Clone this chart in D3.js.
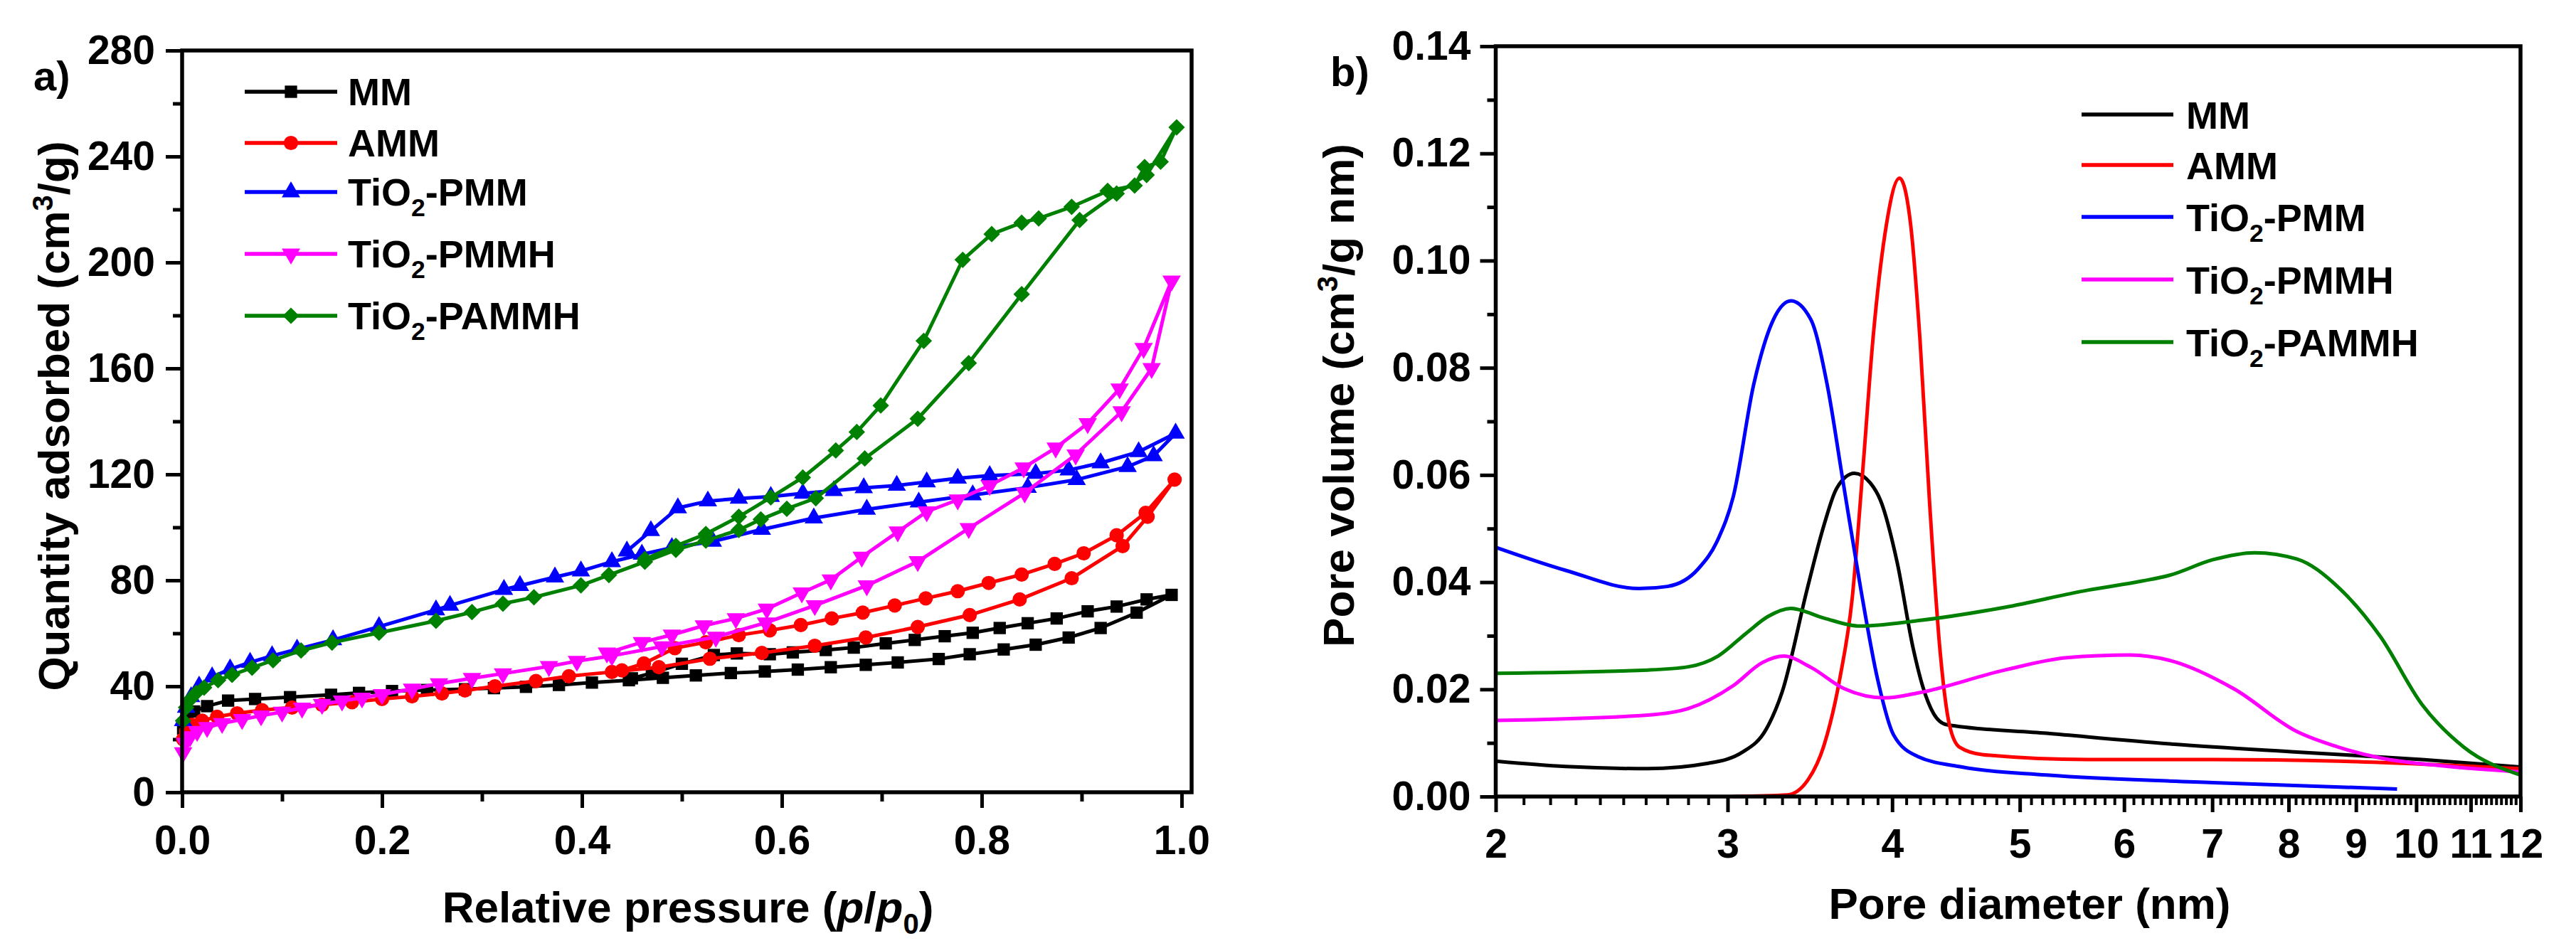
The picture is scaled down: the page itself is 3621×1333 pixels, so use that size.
<!DOCTYPE html>
<html>
<head>
<meta charset="utf-8">
<script src="https://cdn.jsdelivr.net/npm/d3@7"></script>
<style>
body { margin: 0; background: #fff; }
svg { display: block; }
text { font-family: "Liberation Sans", Arial, sans-serif; font-weight: bold; fill: #000; }
</style>
</head>
<body>
<div id="chart"></div>
<script>
// ---- data ----
const seriesNames = ["MM", "AMM", "TiO2-PMM", "TiO2-PMMH", "TiO2-PAMMH"];
const seriesColors = ["#000000", "#ff0000", "#0000ff", "#ff00ff", "#008000"];

// panel a: N2 isotherms, adsorption then desorption points [p/p0, cm3/g]
const mmIso = [[0.001,24],[0.005,28],[0.012,30.5],[0.025,32.5],[0.046,34.6],[0.073,35.2],[0.108,35.9],[0.149,36.8],[0.177,37.5],[0.21,38.2],[0.245,38.6],[0.283,38.9],[0.312,39.3],[0.344,39.8],[0.377,40.5],[0.41,41.4],[0.447,42.3],[0.481,43.2],[0.514,44.1],[0.549,45],[0.583,45.6],[0.616,46.3],[0.649,47.2],[0.684,48.1],[0.716,49],[0.757,50.3],[0.788,52.1],[0.822,53.9],[0.854,55.7],[0.887,58.4],[0.919,62],[0.955,67.8],[0.99,74.5],
  [0.965,72.8],[0.935,70.1],[0.906,68.3],[0.875,65.6],[0.846,63.8],[0.818,62],[0.791,60.2],[0.763,58.9],[0.733,57.5],[0.704,56.2],[0.672,54.6],[0.644,53.7],[0.611,52.8],[0.588,52.1],[0.555,52.4],[0.532,51.8],[0.5,48.5],[0.47,45],[0.45,43]];
const ammIso = [[0.001,20],[0.004,23],[0.01,25.5],[0.02,27],[0.035,28.5],[0.055,29.8],[0.08,31],[0.11,32],[0.14,33],[0.17,34],[0.2,35.2],[0.23,36.2],[0.26,37.3],[0.283,38.4],[0.313,40],[0.354,42],[0.387,43.8],[0.43,45.4],[0.477,47.2],[0.528,50.4],[0.58,52.6],[0.633,55.3],[0.684,58.4],[0.736,62.4],[0.788,66.9],[0.838,72.8],[0.89,80.8],[0.941,92.9],[0.966,104],[0.993,118],
  [0.964,105.5],[0.935,97],[0.902,90.2],[0.873,86.2],[0.84,82.2],[0.807,79],[0.776,75.9],[0.744,73.2],[0.713,70.5],[0.681,67.8],[0.65,65.6],[0.619,63.1],[0.588,61.1],[0.557,59.3],[0.524,56.6],[0.493,54.4],[0.462,48.6],[0.44,46]];
const pmmIso = [[0.001,27],[0.004,32],[0.009,36],[0.017,40],[0.03,43.5],[0.048,46.5],[0.068,49],[0.09,51.5],[0.115,54],[0.151,57.5],[0.197,62.5],[0.254,68.8],[0.268,70.5],[0.322,76.5],[0.338,78],[0.373,81.2],[0.399,83.5],[0.43,87],[0.46,89.8],[0.49,92.3],[0.531,94.7],[0.58,99.2],[0.632,103.5],[0.685,106.8],[0.737,109.5],[0.791,112.2],[0.846,115],[0.895,118],[0.946,122.9],[0.972,127],[0.994,135.5],
  [0.957,128.5],[0.919,124.3],[0.887,121.6],[0.854,120.3],[0.808,119.5],[0.776,118.5],[0.745,117.1],[0.715,115.8],[0.682,114.9],[0.652,113.8],[0.621,112.8],[0.589,111.6],[0.557,110.9],[0.526,109.9],[0.496,107.3],[0.469,98.7],[0.445,91]];
const pmmhIso = [[0.001,15],[0.003,18.5],[0.008,21],[0.015,23],[0.025,24.5],[0.04,26],[0.06,27.5],[0.079,28.9],[0.1,30.3],[0.12,31.8],[0.14,33.2],[0.16,34.5],[0.18,35.6],[0.2,36.9],[0.23,39],[0.257,41],[0.29,43],[0.321,44.8],[0.367,47.5],[0.395,49.5],[0.43,51.5],[0.48,55],[0.534,58.6],[0.584,64],[0.633,70.5],[0.685,78],[0.736,87.1],[0.787,99.6],[0.843,113],[0.894,127.4],[0.94,143.7],[0.97,160],[0.99,193],
  [0.962,167.6],[0.938,152.3],[0.906,139.2],[0.874,130],[0.842,122.5],[0.808,115.8],[0.776,110.4],[0.745,105.9],[0.716,98.3],[0.68,88.8],[0.649,80.2],[0.62,75.3],[0.585,69.2],[0.554,65.6],[0.522,62.9],[0.49,59.4],[0.46,56.6],[0.425,52.6]];
const pammhIso = [[0.001,27],[0.004,32],[0.008,35],[0.014,37.5],[0.022,39.5],[0.036,42.3],[0.05,44.3],[0.07,47],[0.091,49.8],[0.119,53.5],[0.15,56.5],[0.197,60.2],[0.254,64.7],[0.29,68],[0.321,71.2],[0.352,73.6],[0.399,78.1],[0.427,82],[0.463,87],[0.494,91.5],[0.524,95],[0.557,99],[0.579,103],[0.605,107],[0.634,111],[0.683,126],[0.736,141],[0.787,162],[0.84,188],[0.898,216],[0.935,226],[0.965,233],[0.995,251],
  [0.979,238],[0.963,236],[0.953,229],[0.926,227],[0.89,221],[0.857,216.6],[0.84,215],[0.81,210.7],[0.781,201],[0.742,170.4],[0.699,146],[0.675,136],[0.654,129],[0.621,118.8],[0.589,111.3],[0.557,104],[0.524,97.5],[0.494,93],[0.463,88]];

// panel b: pore size distributions [nm, cm3/g nm]
const mmPsd = [[2,0.0066],[2.26,0.0056],[2.61,0.0052],[2.9,0.0062],[3.08,0.0083],[3.21,0.0126],[3.3,0.0195],[3.45,0.039],[3.55,0.0506],[3.63,0.0575],[3.744,0.0603],[3.85,0.0585],[3.92,0.0552],[4.035,0.0437],[4.15,0.0276],[4.22,0.0205],[4.3,0.0155],[4.4,0.0134],[5.24,0.0118],[6.52,0.0098],[8.12,0.0083],[10.1,0.0069],[12,0.0055]];
const ammPsd = [[3.03,0],[3.33,0.0003],[3.45,0.003],[3.55,0.0095],[3.65,0.022],[3.73,0.037],[3.8,0.061],[3.87,0.086],[3.95,0.105],[4.052,0.1154],[4.13,0.107],[4.2,0.085],[4.27,0.055],[4.35,0.027],[4.42,0.0135],[4.5,0.0092],[4.69,0.0078],[5.63,0.0069],[7.01,0.0069],[8.73,0.0066],[12,0.0052]];
const pmmPsd = [[2,0.0465],[2.26,0.0422],[2.57,0.0388],[2.7,0.0392],[2.85,0.0425],[2.95,0.048],[3.03,0.056],[3.14,0.0769],[3.25,0.089],[3.351,0.0925],[3.47,0.089],[3.57,0.0769],[3.67,0.0589],[3.784,0.0391],[3.9,0.0218],[4.01,0.0115],[4.18,0.0075],[4.52,0.0055],[5.24,0.004],[7.01,0.0026],[9.67,0.0014]];
const pmmhPsd = [[2,0.0142],[2.61,0.0152],[2.8,0.0164],[3.03,0.0207],[3.188,0.025],[3.31,0.0262],[3.47,0.0241],[3.68,0.0201],[3.95,0.0184],[4.18,0.0193],[4.87,0.0236],[5.43,0.0259],[6.06,0.0264],[6.52,0.0253],[7.27,0.0201],[8.12,0.0121],[8.73,0.0092],[9.39,0.0072],[10.49,0.0057],[12,0.0046]];
const pammhPsd = [[2,0.023],[2.61,0.0236],[2.8,0.0242],[2.95,0.0262],[3.1,0.0305],[3.22,0.0336],[3.35,0.0351],[3.55,0.0333],[3.78,0.0318],[4.18,0.0328],[4.87,0.0353],[5.63,0.0385],[6.19,0.0402],[6.5,0.0413],[7.01,0.0442],[7.54,0.0455],[8.12,0.0443],[8.73,0.039],[9.39,0.0299],[10.1,0.0172],[10.87,0.0092],[12,0.004]];

const isoTicksX = [0, 0.2, 0.4, 0.6, 0.8, 1.0];
const isoTicksY = [0, 40, 80, 120, 160, 200, 240, 280];
const psdTicksX = [2, 3, 4, 5, 6, 7, 8, 9, 10, 11, 12];
const psdTicksY = [0, 0.02, 0.04, 0.06, 0.08, 0.10, 0.12, 0.14];

const isoData = [mmIso, ammIso, pmmIso, pmmhIso, pammhIso];
const psdData = [mmPsd, ammPsd, pmmPsd, pmmhPsd, pammhPsd];

// ---- drawing ----
const W = 3621, H = 1333;
const svg = d3.select("#chart").append("svg").attr("width", W).attr("height", H);

const TICK_FONT = 57, TITLE_FONT = 62, LEG_FONT = 54;

function styleAxis(g, fontSize) {
  g.select(".domain").remove();
  g.selectAll("line").attr("stroke", "#000").attr("stroke-width", 5);
  g.selectAll("text").style("font-size", fontSize + "px");
}

// marker shapes
const markers = [
  d3.symbol().type(d3.symbolSquare).size(300),
  d3.symbol().type(d3.symbolCircle).size(320),
  d3.symbol().type(d3.symbolTriangle).size(290),
  d3.symbol().type(d3.symbolTriangle).size(290),
  d3.symbol().type(d3.symbolSquare).size(270)
];
const markerRot = [0, 0, 0, 180, 45];

// label with TiO2 subscript
function seriesLabel(sel, name, fs) {
  if (name.startsWith("TiO2")) {
    sel.append("tspan").text("TiO");
    sel.append("tspan").text("2").style("font-size", (fs * 0.66) + "px").attr("dy", fs * 0.28);
    sel.append("tspan").text(name.slice(4)).attr("dy", -fs * 0.28);
  } else {
    sel.text(name);
  }
}

// ===== panel a =====
const xA = d3.scaleLinear().domain([0, 1.01]).range([256, 1675]);
const yA = d3.scaleLinear().domain([0, 280]).range([1114, 71]);

let gxA = svg.append("g").attr("transform", "translate(0,1114)")
  .call(d3.axisBottom(xA).tickValues(isoTicksX).tickFormat(d3.format(".1f")).tickSize(22).tickSizeOuter(0));
styleAxis(gxA, TICK_FONT);
gxA.selectAll("text").attr("y", 87).attr("dy", 0);
svg.append("g").attr("transform", "translate(0,1114)")
  .call(d3.axisBottom(xA).tickValues([0.1, 0.3, 0.5, 0.7, 0.9]).tickFormat("").tickSize(13).tickSizeOuter(0))
  .call(g => styleAxis(g, TICK_FONT));

let gyA = svg.append("g").attr("transform", "translate(256,0)")
  .call(d3.axisLeft(yA).tickValues(isoTicksY).tickFormat(d3.format("d")).tickSize(23).tickPadding(15).tickSizeOuter(0));
styleAxis(gyA, TICK_FONT);
svg.append("g").attr("transform", "translate(256,0)")
  .call(d3.axisLeft(yA).tickValues([20, 60, 100, 140, 180, 220, 260]).tickFormat("").tickSize(13).tickSizeOuter(0))
  .call(g => styleAxis(g, TICK_FONT));

const lineA = d3.line().x(d => xA(d[0])).y(d => yA(d[1]));
isoData.forEach((data, i) => {
  svg.append("path").datum(data).attr("d", lineA)
    .attr("fill", "none").attr("stroke", seriesColors[i]).attr("stroke-width", 5)
    .attr("stroke-linejoin", "round");
  svg.append("g").selectAll("path").data(data).join("path")
    .attr("d", markers[i])
    .attr("transform", d => `translate(${xA(d[0])},${yA(d[1])}) rotate(${markerRot[i]})`)
    .attr("fill", seriesColors[i]);
});

svg.append("rect").attr("x", 256).attr("y", 71).attr("width", 1675 - 256).attr("height", 1114 - 71)
  .attr("fill", "none").attr("stroke", "#000").attr("stroke-width", 5.5);

// legend a
const legARows = [129, 201, 270, 357, 444];
seriesNames.forEach((name, i) => {
  const y = legARows[i];
  svg.append("line").attr("x1", 344).attr("x2", 474).attr("y1", y).attr("y2", y)
    .attr("stroke", seriesColors[i]).attr("stroke-width", 5.5);
  svg.append("path").attr("d", markers[i])
    .attr("transform", `translate(409,${y}) rotate(${markerRot[i]})`).attr("fill", seriesColors[i]);
  const t = svg.append("text").attr("x", 489).attr("y", y + 19).style("font-size", LEG_FONT + "px");
  seriesLabel(t, name, LEG_FONT);
});

svg.append("text").attr("x", 47).attr("y", 127).style("font-size", "58px").text("a)");

const ytA = svg.append("text").attr("transform", "translate(97,585) rotate(-90)")
  .attr("text-anchor", "middle").style("font-size", TITLE_FONT + "px");
ytA.append("tspan").text("Quantity adsorbed (cm");
ytA.append("tspan").text("3").style("font-size", "40px").attr("dy", -23);
ytA.append("tspan").text("/g)").attr("dy", 23);

const xtA = svg.append("text").attr("x", 967).attr("y", 1297)
  .attr("text-anchor", "middle").style("font-size", TITLE_FONT + "px");
xtA.append("tspan").text("Relative pressure (");
xtA.append("tspan").text("p").style("font-style", "italic");
xtA.append("tspan").text("/");
xtA.append("tspan").text("p").style("font-style", "italic");
xtA.append("tspan").text("0").style("font-size", "40px").attr("dy", 16);
xtA.append("tspan").text(")").attr("dy", -16);

// ===== panel b =====
const xB = d3.scaleLog().domain([2, 12]).range([2102.5, 3543]);
const yB = d3.scaleLinear().domain([0, 0.14]).range([1120, 65]);

let gxB = svg.append("g").attr("transform", "translate(0,1120)")
  .call(d3.axisBottom(xB).tickValues(psdTicksX).tickFormat(d3.format("d")).tickSize(22).tickSizeOuter(0));
styleAxis(gxB, TICK_FONT);
gxB.selectAll("text").attr("y", 86).attr("dy", 0);
const minorB = d3.range(21, 120).filter(i => i % 10 !== 0).map(i => i / 10);
svg.append("g").attr("transform", "translate(0,1120)")
  .call(d3.axisBottom(xB).tickValues(minorB).tickFormat("").tickSize(12).tickSizeOuter(0))
  .call(g => { styleAxis(g, TICK_FONT); g.selectAll("line").attr("stroke-width", 4); });

let gyB = svg.append("g").attr("transform", "translate(2102.5,0)")
  .call(d3.axisLeft(yB).tickValues(psdTicksY).tickFormat(d3.format(".2f")).tickSize(22).tickPadding(13).tickSizeOuter(0));
styleAxis(gyB, TICK_FONT);
svg.append("g").attr("transform", "translate(2102.5,0)")
  .call(d3.axisLeft(yB).tickValues([0.01, 0.03, 0.05, 0.07, 0.09, 0.11, 0.13]).tickFormat("").tickSize(12).tickSizeOuter(0))
  .call(g => styleAxis(g, TICK_FONT));

const lineB = d3.line().x(d => xB(d[0])).y(d => yB(d[1])).curve(d3.curveMonotoneX);
psdData.forEach((data, i) => {
  svg.append("path").datum(data).attr("d", lineB)
    .attr("fill", "none").attr("stroke", seriesColors[i]).attr("stroke-width", 5);
});

svg.append("rect").attr("x", 2102.5).attr("y", 65).attr("width", 3543 - 2102.5).attr("height", 1120 - 65)
  .attr("fill", "none").attr("stroke", "#000").attr("stroke-width", 5.5);

// legend b
const legBRows = [161, 232, 305, 393, 481];
seriesNames.forEach((name, i) => {
  const y = legBRows[i];
  svg.append("line").attr("x1", 2926).attr("x2", 3055).attr("y1", y).attr("y2", y)
    .attr("stroke", seriesColors[i]).attr("stroke-width", 5.5);
  const t = svg.append("text").attr("x", 3073).attr("y", y + 20).style("font-size", LEG_FONT + "px");
  seriesLabel(t, name, LEG_FONT);
});

svg.append("text").attr("x", 1870).attr("y", 121).style("font-size", "58px").text("b)");

const ytB = svg.append("text").attr("transform", "translate(1903,556) rotate(-90)")
  .attr("text-anchor", "middle").style("font-size", TITLE_FONT + "px");
ytB.append("tspan").text("Pore volume (cm");
ytB.append("tspan").text("3").style("font-size", "40px").attr("dy", -23);
ytB.append("tspan").text("/g nm)").attr("dy", 23);

svg.append("text").attr("x", 2853).attr("y", 1292).attr("text-anchor", "middle")
  .style("font-size", TITLE_FONT + "px").text("Pore diameter (nm)");
</script>
</body>
</html>
